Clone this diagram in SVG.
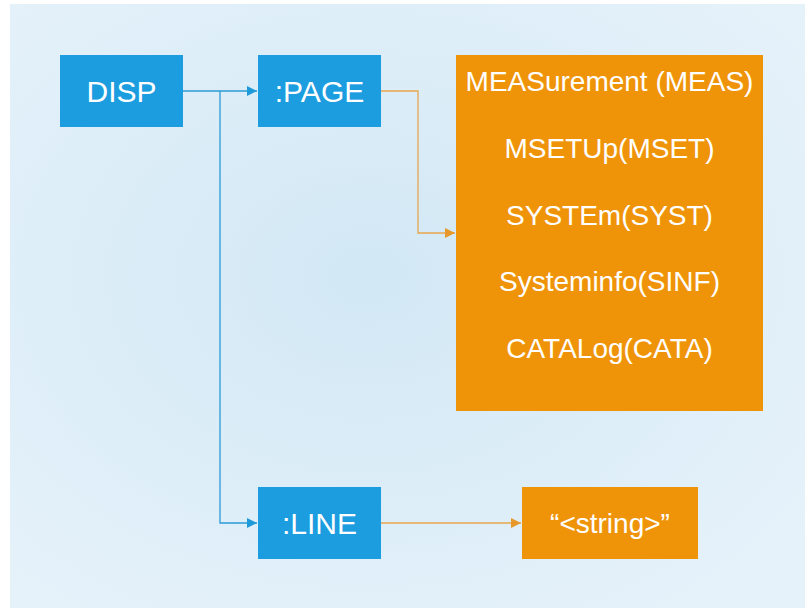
<svg xmlns="http://www.w3.org/2000/svg" width="805" height="608" viewBox="0 0 805 608">
<defs>
<radialGradient id="bg" cx="0.45" cy="0.45" r="0.7">
<stop offset="0" stop-color="#d2e8f5"/>
<stop offset="1" stop-color="#e6f2fa"/>
</radialGradient>
<marker id="ab" viewBox="0 0 10 10" refX="10" refY="5" markerWidth="10" markerHeight="10" markerUnits="userSpaceOnUse" orient="auto">
<path d="M0,0 L10,5 L0,10 Z" fill="#1f9ad8"/>
</marker>
<marker id="ao" viewBox="0 0 10 10" refX="10" refY="5" markerWidth="10" markerHeight="10" markerUnits="userSpaceOnUse" orient="auto">
<path d="M0,0 L10,5 L0,10 Z" fill="#e7982a"/>
</marker>
</defs>
<style>
.blue{fill:#1b9de0}
.orange{fill:#ef9409}
.t{font-family:"Liberation Sans",Arial,sans-serif;fill:#ffffff;text-anchor:middle}
.tb{font-size:30px}
.to{font-size:28px}
.cb{fill:none;stroke:#2a9bd6;stroke-width:1.3}
.co{fill:none;stroke:#e9a64d;stroke-width:1.3}
</style>
<rect x="0" y="0" width="805" height="608" fill="#ffffff"/>
<rect x="10" y="4" width="795" height="604" fill="url(#bg)"/>
<g id="connectors">
<path class="cb" d="M183,91 H257" marker-end="url(#ab)"/>
<path class="cb" d="M220,91 V523 H257" marker-end="url(#ab)"/>
<path class="co" d="M381,91 H418 V233 H455" marker-end="url(#ao)"/>
<path class="co" d="M381,523 H521" marker-end="url(#ao)"/>
</g>
<g id="disp">
<rect class="blue" x="60" y="55" width="123" height="72"/>
<text class="t tb" x="121.5" y="102">DISP</text>
</g>
<g id="page">
<rect class="blue" x="258" y="55" width="123" height="72"/>
<text class="t tb" x="319.5" y="102">:PAGE</text>
</g>
<g id="pages">
<rect class="orange" x="456" y="55" width="307" height="356"/>
<text class="t to" x="609.5" y="91">MEASurement (MEAS)</text>
<text class="t to" x="609.5" y="158">MSETUp(MSET)</text>
<text class="t to" x="609.5" y="225">SYSTEm(SYST)</text>
<text class="t to" x="609.5" y="291">Systeminfo(SINF)</text>
<text class="t to" x="609.5" y="358">CATALog(CATA)</text>
</g>
<g id="line">
<rect class="blue" x="258" y="487" width="123" height="72"/>
<text class="t tb" x="319.5" y="534">:LINE</text>
</g>
<g id="string">
<rect class="orange" x="522" y="487" width="176" height="72"/>
<text class="t to" x="610" y="533">“&lt;string&gt;”</text>
</g>
</svg>
